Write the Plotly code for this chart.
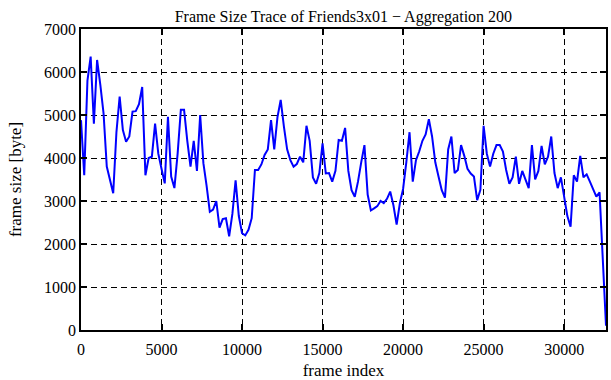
import plotly.graph_objects as go

title_text = "Frame Size Trace of Friends3x01 \u2212 Aggregation 200"
x_label = "frame index"
y_label = "frame size [byte]"

aggregation = 200
frame_size = [
    4880, 3600, 5800, 6360, 4800, 6280, 5700, 5040, 3800, 3490,
    3180, 4600, 5430, 4650, 4380, 4500, 5080, 5090, 5250, 5650,
    3600, 4000, 4030, 4800, 4100, 3750, 3410, 4960, 3570, 3300,
    4100, 5120, 5120, 4400, 3800, 4400, 3700, 5000, 3880, 3350,
    2750, 2800, 3000, 2380, 2580, 2600, 2180, 2700, 3480, 2650,
    2250, 2200, 2330, 2600, 3720, 3720, 3850, 4070, 4200, 4880,
    4200, 4950, 5350, 4730, 4200, 3950, 3800, 3860, 4030, 3900,
    4750, 4400, 3550, 3400, 3650, 4340, 3640, 3650, 3450, 3700,
    4420, 4400, 4700, 3700, 3250, 3100, 3450, 3900, 4300, 3150,
    2780, 2830, 2880, 3000, 2950, 3050, 3220, 2900, 2450, 2950,
    3280, 3900, 4600, 3450, 3950, 4150, 4400, 4550, 4900, 4500,
    3900, 3570, 3250, 3080, 4200, 4500, 3650, 3720, 4300, 4050,
    3750, 3640, 3570, 3020, 3260, 4750, 4100, 3800, 4100, 4300,
    4300, 4150, 3720, 3400, 3550, 4030, 3400, 3700, 3500, 3300,
    4300, 3500, 3700, 4280, 3850, 4030, 4500, 3650, 3300, 3550,
    3100, 2650, 2400, 3600, 3450, 4050, 3550, 3620, 3450, 3270,
    3100, 3200, 1500, 100,
]
frame_index = [i * aggregation for i in range(len(frame_size))]

x_ticks = [0, 5000, 10000, 15000, 20000, 25000, 30000]
y_ticks = [0, 1000, 2000, 3000, 4000, 5000, 6000, 7000]

font_family = "Liberation Serif, Times New Roman, serif"

fig = go.Figure()
fig.add_trace(go.Scatter(
    x=frame_index, y=frame_size, mode="lines",
    line=dict(color="#0000ff", width=2),
    showlegend=False,
))

axis_common = dict(
    showline=True, linecolor="black", linewidth=1.5, mirror="ticks",
    ticks="inside", ticklen=6, tickwidth=1.5, tickcolor="black",
    showgrid=True, gridcolor="black", gridwidth=1, griddash="6px,4px",
    zeroline=False,
    tickfont=dict(family=font_family, size=16, color="black"),
)

fig.update_xaxes(
    range=[0, frame_index[-1]], tickvals=x_ticks,
    ticktext=[str(v) for v in x_ticks],
    ticklabelstandoff=4,
    title=dict(text=x_label, font=dict(family=font_family, size=17, color="black"), standoff=9),
    **axis_common,
)
fig.update_yaxes(
    range=[0, 7000], tickvals=y_ticks,
    ticktext=[str(v) for v in y_ticks],
    title=dict(text=y_label, font=dict(family=font_family, size=17, color="black"), standoff=18),
    **axis_common,
)

fig.update_layout(
    width=611, height=380,
    margin=dict(l=81, r=5, t=29, b=50, autoexpand=False),
    paper_bgcolor="white", plot_bgcolor="white",
    title=dict(text=title_text, x=0.562, xanchor="center", y=0.972, yanchor="top",
               font=dict(family=font_family, size=16, color="black")),
)

fig.write_html(
    "out.html",
    config={"displayModeBar": False},
    post_script="document.body.style.margin='0';document.body.style.padding='0';",
)
